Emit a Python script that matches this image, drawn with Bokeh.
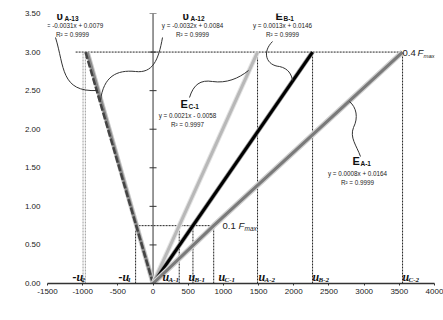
import math
from bokeh.plotting import figure
from bokeh.models import Label, FixedTicker, NumeralTickFormatter, Range1d
from bokeh.embed import file_html
from bokeh.resources import INLINE

# ---------------- data ----------------
load_pts = [0.0, 0.75, 3.0]                 # kN : origin, 0.1 Fmax, 0.4 Fmax
strain_vA13 = [0, -240, -960]              # µε
strain_vA12 = [0, -234, -935]
strain_EC1 = [0, 372, 1485]
strain_EB1 = [0, 567, 2267]
strain_EA1 = [0, 862, 3546]

f01 = 0.75
f04 = 3.0
u_neg_01 = [-248]                 # -u1
u_neg_04 = [-995, -962]           # -u2 (two gauges)
u_pos_01 = [372, 567, 862]        # uA-1, uB-1, uC-1
u_pos_04 = [1485, 2267, 3546]     # uA-2, uB-2, uC-2
f04_guide_start = -1100

x_ticks = [-1500, -1000, -500, 0, 500, 1000, 1500, 2000, 2500, 3000, 3500, 4000]
y_ticks = [0.0, 0.5, 1.0, 1.5, 2.0, 2.5, 3.0, 3.5]

fit_names = ["υ", "υ", "E", "E", "E"]
fit_subs = ["A-13", "A-12", "C-1", "B-1", "A-1"]
fit_eqs = ["y = -0.0031x + 0.0079", "y = -0.0032x + 0.0084", "y = 0.0021x - 0.0058",
           "y = 0.0013x + 0.0146", "y = 0.0008x + 0.0164"]
fit_r2 = ["R² = 0.9999", "R² = 0.9999", "R² = 0.9997", "R² = 0.9999", "R² = 0.9999"]

u_mains = ["-u", "-u", "u", "u", "u", "u", "u", "u"]
u_subs = ["2", "1", "A-1", "B-1", "C-1", "A-2", "B-2", "C-2"]

# ---------------- layout ----------------
W, H = 443, 320
ML, MR, MT, MB = 47, 9, 13, 37
XMIN, XMAX, YMIN, YMAX = x_ticks[0], x_ticks[-1], y_ticks[0], y_ticks[-1]
FL = ML
FB = H - MB
XS = (W - ML - MR) / (XMAX - XMIN)
YS = (H - MT - MB) / (YMAX - YMIN)


def X(px):
    return XMIN + (px - FL) / XS


def Y(py):
    return YMIN + (FB - py) / YS


SANS = "Liberation Sans"
SERIF = "Liberation Serif"

p = figure(width=W, height=H, output_backend="svg", toolbar_location=None,
           x_range=Range1d(XMIN, XMAX), y_range=Range1d(YMIN, YMAX),
           min_border_left=ML, min_border_right=MR, min_border_top=MT, min_border_bottom=MB)
p.outline_line_color = None
p.grid.visible = False
p.background_fill_color = "white"

xa = p.xaxis[0]
xa.ticker = FixedTicker(ticks=x_ticks)
xa.formatter = NumeralTickFormatter(format="0")
xa.axis_line_color = "#333333"
xa.axis_line_width = 1.5
xa.major_tick_line_color = "#333333"
xa.major_tick_out = 2
xa.major_tick_in = 0
xa.minor_tick_line_color = None
xa.major_label_standoff = 3
xa.major_label_text_font = SANS
xa.major_label_text_font_size = "8px"
xa.major_label_text_color = "#222222"

ya = p.yaxis[0]
ya.ticker = FixedTicker(ticks=y_ticks)
ya.formatter = NumeralTickFormatter(format="0.00")
ya.axis_line_color = None
ya.major_tick_line_color = None
ya.major_tick_out = 0
ya.major_tick_in = 0
ya.minor_tick_line_color = None
ya.major_label_standoff = 7
ya.major_label_text_font = SANS
ya.major_label_text_font_size = "8px"
ya.major_label_text_color = "#222222"

# vertical axis through x = 0
p.line([0, 0], [y_ticks[0], y_ticks[-1]], line_color="#333333", line_width=1)
p.scatter([0] * len(y_ticks), y_ticks, marker="dash", size=7, line_color="#333333", line_width=1)

# dotted guides
dot = dict(line_dash="2 1", line_width=1)
p.line([f04_guide_start, u_pos_04[-1]], [f04, f04], line_color="#222222", **dot)
p.line([u_neg_01[0], u_pos_01[-1]], [f01, f01], line_color="#222222", **dot)
p.segment(x0=u_neg_01 + u_pos_01, y0=[0] * 4, x1=u_neg_01 + u_pos_01, y1=[f01] * 4,
          line_color="#222222", **dot)
p.segment(x0=u_pos_04, y0=[0] * 3, x1=u_pos_04, y1=[f04] * 3, line_color="#222222", **dot)
p.segment(x0=u_neg_04, y0=[0] * 2, x1=u_neg_04, y1=[f04] * 2, line_color="#9a9a9a", **dot)

# series lines (with soft halo like the original)
p.line(strain_vA12, load_pts, line_color="#c8c8c8", line_width=5)
p.line(strain_vA12, load_pts, line_color="#8a8a8a", line_width=3)
p.line(strain_vA13, load_pts, line_color="#444444", line_width=2.5, line_dash="7 2")
p.line(strain_EC1, load_pts, line_color="#e3e3e3", line_width=5)
p.line(strain_EC1, load_pts, line_color="#b8b8b8", line_width=3)
p.line(strain_EB1, load_pts, line_color="#9a9a9a", line_width=4.5)
p.line(strain_EB1, load_pts, line_color="#000000", line_width=3)
p.line(strain_EA1, load_pts, line_color="#cfcfcf", line_width=5.5)
p.line(strain_EA1, load_pts, line_color="#7a7a7a", line_width=3)

# leader curves (page px)
curves = [
    [(55, 37), (64, 66), (60, 92), (97, 90)],
    [(162, 37), (158, 60), (152, 73), (135, 71)],
    [(135, 71), (116, 69), (103, 76), (100, 100)],
    [(189, 97), (193, 84), (200, 79), (212, 81)],
    [(212, 81), (226, 83), (238, 78), (248, 70)],
    [(272, 41), (261, 52), (266, 65), (279, 66)],
    [(279, 66), (288, 68), (291, 74), (292, 80)],
    [(360, 156), (356, 145), (349, 137), (353, 127)],
    [(353, 127), (358, 117), (356, 107), (349, 101)],
]
p.bezier(x0=[X(c[0][0]) for c in curves], y0=[Y(c[0][1]) for c in curves],
         cx0=[X(c[1][0]) for c in curves], cy0=[Y(c[1][1]) for c in curves],
         cx1=[X(c[2][0]) for c in curves], cy1=[Y(c[2][1]) for c in curves],
         x1=[X(c[3][0]) for c in curves], y1=[Y(c[3][1]) for c in curves],
         line_color="#333333", line_width=1)


def lab(px, py, text, size, font=SANS, style="normal", align="left", color="#222222", angle=0):
    p.add_layout(Label(x=X(px), y=Y(py), text=text, text_font=font, text_font_size=f"{size}px",
                       text_font_style=style, text_align=align, text_baseline="middle",
                       text_color=color, angle=angle))


# fit annotations: (left px of symbol, y of symbol, symbol width, center px of eq, y eq)
fit_pos = [(56, 15, 8, 72, 25), (182, 15, 8, 192, 25), (180, 103, 8, 187, 115),
           (275, 15, 8, 282, 25), (352, 160, 8, 357, 173)]
for i, (sx, sy, sw, ex, ey) in enumerate(fit_pos):
    lab(sx, sy, fit_names[i], 11, style="bold", color="#111111")
    lab(sx + sw, sy + 3, fit_subs[i], 6.5, style="bold", color="#111111")
    lab(ex, ey, fit_eqs[i], 6.3, align="center")
    lab(ex, ey + 8.5, fit_r2[i], 6.3, align="center")

# force level annotations
lab(402, 52, "0.4", 9.5)
lab(417, 52, "F", 9.5, style="italic")
lab(423, 55, "max", 6, style="italic")
lab(222, 225, "0.1", 9.5)
lab(238, 225, "F", 9.5, style="italic")
lab(244, 228, "max", 6.5, style="italic")

# strain markers on the x axis
u_pos_px = [(72, 9), (118, 9), (162, 6), (188, 6), (218, 6), (258, 6), (312, 6), (402, 6)]
for i, (ux, uw) in enumerate(u_pos_px):
    lab(ux, 276, u_mains[i], 12, font=SERIF, style="bold italic", color="#111111")
    lab(ux + uw, 279, u_subs[i], 7, font=SERIF, style="bold italic", color="#111111")

# axis titles
lab(240, 311, "Strain (µε)", 8.5, style="bold", align="center", color="#111111")
lab(15, 163, "Load (kN)", 8.5, style="bold", align="center", color="#111111", angle=math.pi / 2)

open("out.html", "w").write(file_html(p, INLINE))
